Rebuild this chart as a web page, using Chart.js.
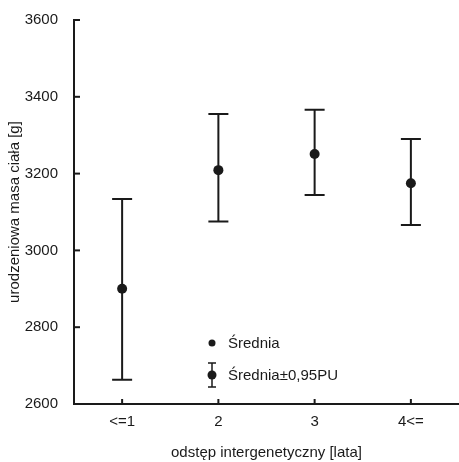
<!DOCTYPE html>
<html>
<head>
<meta charset="utf-8">
<script src="https://cdn.jsdelivr.net/npm/chart.js@4"></script>
<style>
  html, body { margin: 0; padding: 0; background: #fff; }
  #wrap { width: 459px; height: 462px; }
</style>
</head>
<body>
<div id="wrap"><canvas id="c"></canvas></div>
<script>
const categories = ["<=1", "2", "3", "4<="];
const means = [2900, 3209, 3251, 3175];
const lowerCI = [2663, 3075, 3144, 3066];
const upperCI = [3134, 3355, 3366, 3290];
const yTicks = [2600, 2800, 3000, 3200, 3400, 3600];

const ink = "#1a1a1a";
const font = { family: "'Liberation Sans', Arial, sans-serif", size: 15 };

// error bars, inward ticks and in-plot legend
const extras = {
  id: "extras",
  afterDatasetsDraw(chart) {
    const ctx = chart.ctx;
    const x = chart.scales.x, y = chart.scales.y;
    const a = chart.chartArea;
    ctx.save();
    ctx.strokeStyle = ink;
    ctx.lineWidth = 2;

    // inward tick marks
    yTicks.forEach(v => {
      const py = y.getPixelForValue(v);
      ctx.beginPath();
      ctx.moveTo(a.left, py);
      ctx.lineTo(a.left + 6, py);
      ctx.stroke();
    });
    categories.forEach((c, i) => {
      const px = x.getPixelForValue(i);
      ctx.beginPath();
      ctx.moveTo(px, a.bottom);
      ctx.lineTo(px, a.bottom - 5);
      ctx.stroke();
    });

    // whiskers
    categories.forEach((c, i) => {
      const px = x.getPixelForValue(i);
      const lo = y.getPixelForValue(lowerCI[i]);
      const hi = y.getPixelForValue(upperCI[i]);
      ctx.beginPath();
      ctx.moveTo(px, lo); ctx.lineTo(px, hi);
      ctx.moveTo(px - 10, lo); ctx.lineTo(px + 10, lo);
      ctx.moveTo(px - 10, hi); ctx.lineTo(px + 10, hi);
      ctx.stroke();
    });

    // legend
    const lx = 212, ly1 = 343, ly2 = 375;
    ctx.fillStyle = ink;
    ctx.beginPath();
    ctx.arc(lx, ly1, 3.5, 0, Math.PI * 2);
    ctx.fill();
    ctx.lineWidth = 1.5;
    ctx.beginPath();
    ctx.moveTo(lx, ly2 - 12); ctx.lineTo(lx, ly2 + 12);
    ctx.moveTo(lx - 4, ly2 - 12); ctx.lineTo(lx + 4, ly2 - 12);
    ctx.moveTo(lx - 4, ly2 + 12); ctx.lineTo(lx + 4, ly2 + 12);
    ctx.stroke();
    ctx.beginPath();
    ctx.arc(lx, ly2, 4.5, 0, Math.PI * 2);
    ctx.fill();
    ctx.font = font.size + "px " + font.family;
    ctx.textBaseline = "middle";
    ctx.fillText("Średnia", 228, ly1 + 1);
    ctx.fillText("Średnia±0,95PU", 228, ly2 + 1);
    ctx.restore();
  }
};

new Chart(document.getElementById("c"), {
  type: "line",
  data: {
    labels: categories,
    datasets: [{
      label: "Średnia",
      data: means,
      showLine: false,
      pointRadius: 5,
      pointHoverRadius: 5,
      pointBackgroundColor: ink,
      pointBorderWidth: 0,
    }],
  },
  options: {
    responsive: true,
    maintainAspectRatio: false,
    animation: false,
    layout: { autoPadding: false, padding: { top: 20, right: 0, left: 0, bottom: 0 } },
    plugins: { legend: { display: false }, tooltip: { enabled: false } },
    scales: {
      x: {
        type: "category",
        offset: true,
        grid: { display: false },
        border: { display: true, color: ink, width: 2 },
        ticks: { color: ink, font: font, padding: 1, maxRotation: 0 },
        title: { display: true, text: "odstęp intergenetyczny [lata]", color: ink, font: font, padding: { top: 12, bottom: 0 } },
        afterFit(s) { s.height = 58; s.paddingRight = 0; s.paddingLeft = 0; },
      },
      y: {
        min: 2600,
        max: 3600,
        grid: { display: false },
        border: { display: true, color: ink, width: 2 },
        ticks: { stepSize: 200, color: ink, font: font, padding: 8, callback: v => String(v) },
        title: { display: true, text: "urodzeniowa masa ciała [g]", color: ink, font: font, padding: { top: 6, bottom: 0 } },
        afterFit(s) { s.width = 74; },
      },
    },
  },
  plugins: [extras],
});
</script>
</body>
</html>
